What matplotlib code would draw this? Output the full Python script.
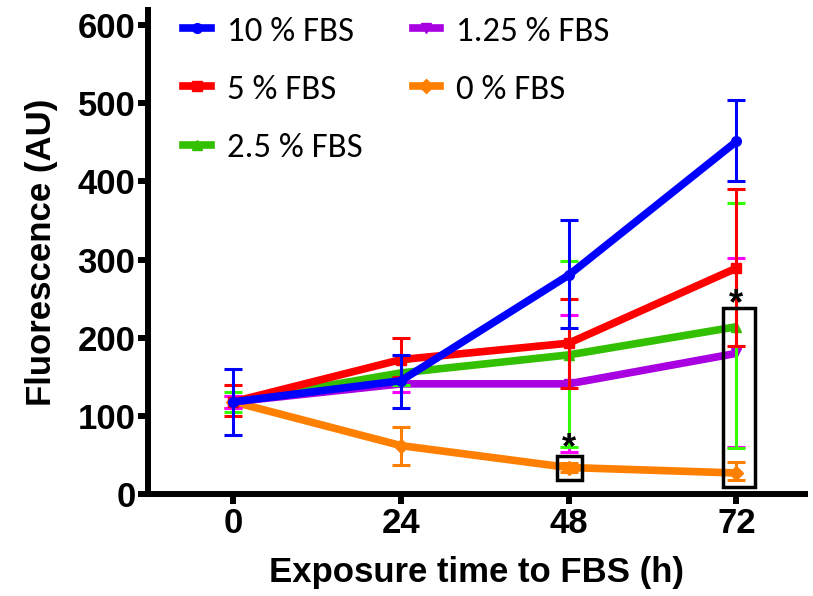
import matplotlib.pyplot as plt
from matplotlib.lines import Line2D
from matplotlib.patches import Rectangle

# exposure time (h)
hours = [0, 24, 48, 72]

labels = ["10 % FBS", "5 % FBS", "2.5 % FBS", "1.25 % FBS", "0 % FBS"]
colors = ["#0000ff", "#ff0000", "#33c000", "#a800e0", "#ff8000"]
markers = ["o", "s", "^", "v", "D"]
bar_colors = ["#0000ff", "#ff0000", "#33ff00", "#ff00ff", "#ff8000"]

# means
fbs10 = [118, 145, 280, 451]
fbs5 = [118, 172, 193, 289]
fbs2_5 = [118, 155, 178, 214]
fbs1_25 = [118, 141, 141, 180]
fbs0 = [118, 62, 34, 27]

# error bar ends (upper, lower)
up10 = [160, 178, 350, 504]
lo10 = [75, 110, 212, 400]
up5 = [140, 200, 250, 390]
lo5 = [100, 150, 136, 189]
up2_5 = [130, 170, 298, 372]
lo2_5 = [105, 140, 60, 59]
up1_25 = [125, 150, 229, 302]
lo1_25 = [110, 130, 54, 60]
up0 = [125, 86, 40, 41]
lo0 = [110, 37, 28, 18]

means = [fbs10, fbs5, fbs2_5, fbs1_25, fbs0]
uppers = [up10, up5, up2_5, up1_25, up0]
lowers = [lo10, lo5, lo2_5, lo1_25, lo0]

plt.rcParams['font.family'] = ['Liberation Sans', 'DejaVu Sans']

fig = plt.figure(figsize=(8.13, 5.96), dpi=100)
ax = fig.add_axes([0.182, 0.171, 0.808, 0.812])

zorders = [10, 8, 6, 4, 2]
for i in range(len(means)):
    m = means[i]
    err = [[m[k] - lowers[i][k] for k in range(4)], [uppers[i][k] - m[k] for k in range(4)]]
    ax.errorbar(hours, m, yerr=err, fmt="none", ecolor=bar_colors[i], elinewidth=2.2,
                capsize=6.5, capthick=2.2, zorder=zorders[i] - 1)
    ax.plot(hours, m, color=colors[i], lw=5.5, marker=markers[i], ms=7,
            zorder=zorders[i], solid_capstyle="butt")

# significance marks
ax.add_patch(Rectangle((46.3, 18), 3.6, 30.5, fill=False, lw=2.5, ec="black", zorder=12))
ax.add_patch(Rectangle((70.1, 9), 4.6, 229, fill=False, lw=2.5, ec="black", zorder=12))
ax.text(48, 58, "*", ha="center", va="center", fontsize=26, fontweight="bold", zorder=12)
ax.text(72, 242, "*", ha="center", va="center", fontsize=26, fontweight="bold", zorder=12)

ax.set_xlim(-12.2, 81.8)
ax.set_ylim(0, 619)
ax.set_xticks(hours)
ax.set_yticks([0, 100, 200, 300, 400, 500, 600])

for s in ["top", "right"]:
    ax.spines[s].set_visible(False)
for s in ["left", "bottom"]:
    ax.spines[s].set_linewidth(4.3)
ax.tick_params(width=4.3, length=7, labelsize=25, pad=2)
for t in ax.get_xticklabels() + ax.get_yticklabels():
    t.set_fontweight("bold")

ax.set_xlabel("Exposure time to FBS (h)", fontsize=25, fontweight="bold", labelpad=12)
ax.set_ylabel("Fluorescence (AU)", fontsize=25, fontweight="bold", labelpad=14)

handles = [Line2D([], [], color=colors[i], lw=5.5, marker=markers[i], ms=7) for i in range(5)]
leg = ax.legend(handles, labels, loc="upper left", bbox_to_anchor=(0.006, 1.052), ncol=2,
                frameon=False, handlelength=0.8, handletextpad=0.45,
                columnspacing=1.45, labelspacing=0.8,
                prop={'family': ['Carlito', 'Open Sans', 'DejaVu Sans'], 'size': 25})

fig.savefig("out.png", dpi=100)
